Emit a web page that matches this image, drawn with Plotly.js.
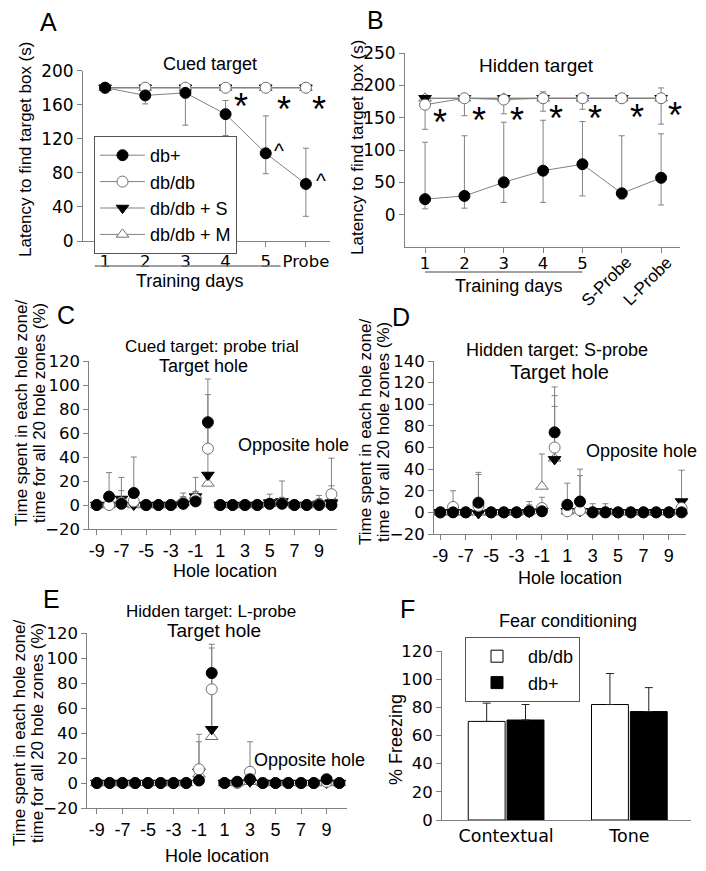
<!DOCTYPE html>
<html><head><meta charset="utf-8">
<script src="https://cdn.plot.ly/plotly-3.0.1.min.js"></script>
<style>html,body{margin:0;padding:0;background:#fff}#chart{width:706px;height:871px}</style>
</head><body><div id="chart"></div>
<script>
// ---------- DATA ----------
// Panel A: cued target
const cuedDays = [1, 2, 3, 4, 5, 6];
const cuedDayLabels = ['1', '2', '3', '4', '5', 'Probe'];
const cuedDbPlus = [180, 171, 174, 149, 103, 67];
const cuedDbPlusUp = [0, 0, 0, 16, 44, 42];
const cuedDbPlusDn = [6, 10, 38, 25, 24, 38];
const cuedDbDb = [180, 180, 180, 180, 180, 180];
const cuedDbDbErr = [3, 3, 3, 3, 3, 3];
const cuedDbDbS = [180, 180, 180, 180, 180, 180];
const cuedDbDbSErr = [3, 3, 3, 3, 3, 3];
const cuedDbDbM = [180, 180, 180, 180, 180, 180];
const cuedDbDbMErr = [3, 3, 3, 3, 3, 3];

// Panel B: hidden target
const hidDays = [1, 2, 3, 4, 5, 6, 7];
const hidDayLabels = ['1', '2', '3', '4', '5', '', ''];
const hidProbeLabels = ['S-Probe', 'L-Probe'];
const hidDbPlus = [24, 29, 50, 68, 78, 33, 57];
const hidDbPlusUp = [88, 93, 93, 78, 66, 89, 68];
const hidDbPlusDn = [15, 19, 31, 49, 49, 9, 42];
const hidDbDb = [170, 180, 178, 180, 180, 180, 180];
const hidDbDbUp = [0, 0, 0, 10, 3, 3, 16];
const hidDbDbDn = [38, 27, 22, 20, 17, 3, 40];
const hidDbDbS = [180, 180, 180, 180, 180, 180, 180];
const hidDbDbSErr = [3, 3, 3, 3, 3, 3, 3];
const hidDbDbM = [180, 180, 180, 180, 180, 180, 180];
const hidDbDbMErr = [5, 5, 5, 5, 5, 5, 5];

// Hole locations (panels C, D, E)
const holes = [-9, -8, -7, -6, -5, -4, -3, -2, -1, 0, 1, 2, 3, 4, 5, 6, 7, 8, 9, 10];
const holeTicks = [-9, -7, -5, -3, -1, 1, 3, 5, 7, 9];
const holeTickLabels = ['-9', '-7', '-5', '-3', '-1', '1', '3', '5', '7', '9'];

// Panel C: cued probe
const cDbPlus   = [0, 7, 1, 10, 0, 0, 0, 1, 3, 69, 0, 0, 0, 0, 1, 1, 0, 0, 0, 0];
const cDbPlusE  = [1, 20, 2, 30, 0, 0, 0, 2, 3, 36, 1, 0, 0, 0, 2, 1, 0, 0, 0, 0];
const cDbDb     = [0, 0, 2, 3, 0, 0, 0, 2, 5, 47, 0, 0, 0, 0, 1, 2, 0, 0, 1, 9];
const cDbDbE    = [0, 2, 10, 8, 0, 0, 0, 8, 6, 45, 0, 0, 0, 0, 3, 4, 0, 0, 2, 30];
const cDbDbS    = [0, 0, 5, 0, 0, 0, 0, 1, 7, 25, 0, 0, 0, 0, 2, 3, 0, 0, 1, 2];
const cDbDbSE   = [0, 0, 18, 0, 0, 0, 0, 3, 16, 39, 0, 0, 0, 0, 7, 17, 0, 0, 7, 3];
const cDbDbM    = [0, 0, 1, 0, 0, 0, 0, 2, 8, 18, 0, 0, 0, 0, 1, 2, 0, 0, 1, 5];
const cDbDbME   = [0, 0, 3, 0, 0, 0, 0, 5, 3, 4, 0, 0, 0, 0, 2, 3, 0, 0, 2, 11];

// Panel D: hidden S-probe
const dDbPlus   = [0, 0, 0, 9, 0, 0, 0, 1, 1, 74, 7, 10, 0, 0, 0, 0, 0, 0, 0, 0];
const dDbPlusE  = [0, 0, 0, 28, 0, 0, 0, 9, 2, 42, 20, 30, 0, 0, 0, 0, 0, 0, 0, 0];
const dDbDb     = [0, 5, 0, 6, 0, 0, 0, 1, 4, 60, 1, 2, 0, 0, 0, 0, 0, 0, 0, 4];
const dDbDbE    = [0, 15, 0, 29, 0, 0, 0, 6, 10, 48, 2, 4, 0, 0, 0, 0, 0, 0, 0, 3];
const dDbDbS    = [0, 0, 0, -1, 0, 0, 0, 0, 1, 49, 1, 1, 1, 1, 0, 0, 0, 0, 0, 10];
const dDbDbSE   = [0, 0, 0, 2, 0, 0, 0, 2, 7, 49, 2, 33, 7, 7, 0, 0, 0, 0, 0, 29];
const dDbDbM    = [0, 0, 0, 0, 0, 0, 0, 1, 24, 50, 1, 2, 1, 1, 0, 0, 0, 0, 0, 1];
const dDbDbME   = [0, 0, 0, 0, 0, 0, 0, 3, 30, 2, 2, 3, 2, 2, 0, 0, 0, 0, 0, 1];

// Panel E: hidden L-probe
const eDbPlus   = [0, 0, 0, 0, 0, 0, 0, 0, 2, 88, 0, 1, 3, 0, 0, 0, 0, 0, 3, 0];
const eDbPlusE  = [0, 0, 0, 0, 0, 0, 0, 0, 2, 23, 0, 2, 3, 0, 0, 0, 0, 0, 2, 0];
const eDbDb     = [0, 0, 0, 0, 0, 0, 0, 0, 11, 75, 0, 0, 9, 0, 0, 0, 0, 0, 1, 0];
const eDbDbE    = [0, 0, 0, 0, 0, 0, 0, 0, 28, 33, 0, 0, 24, 0, 0, 0, 0, 0, 2, 0];
const eDbDbS    = [0, 0, 0, 0, 0, 0, 0, 0, 9, 43, 0, 0, 1, 0, 0, 0, 0, 0, 0, 0];
const eDbDbSE   = [0, 0, 0, 0, 0, 0, 0, 0, 24, 42, 0, 0, 2, 0, 0, 0, 0, 0, 1, 0];
const eDbDbM    = [0, 0, 0, 0, 0, 0, 0, 0, 7, 37, 0, 0, 1, 0, 0, 0, 0, 0, 0, 0];
const eDbDbME   = [0, 0, 0, 0, 0, 0, 0, 0, 5, 47, 0, 0, 2, 0, 0, 0, 0, 0, 1, 0];

// Panel F: fear conditioning
const fearCats = ['Contextual', 'Tone'];
const fearDbDb = [70, 82];
const fearDbDbErr = [13, 22];
const fearDbPlus = [71, 77];
const fearDbPlusErr = [11, 17];

// ---------- STYLE / LAYOUT ----------
const W = 706, H = 871;
const FONT = 'Liberation Sans, Arial, Helvetica, sans-serif';
const TICKFONT = 'DejaVu Sans, Liberation Sans, sans-serif';
const GREY = '#808080';
const px = v => v / W;
const py = v => 1 - v / H;
const zeros = a => a.map(() => 0);

const markerStyles = {
  'db+': {symbol: 'circle', size: 11, color: '#000', line: {color: '#000', width: 1}},
  'db/db': {symbol: 'circle', size: 11, color: '#fff', line: {color: '#707070', width: 1}},
  'db/db + S': {symbol: 'triangle-down', size: 11, color: '#000', line: {color: '#000', width: 1}},
  'db/db + M': {symbol: 'triangle-up', size: 11, color: '#fff', line: {color: '#707070', width: 1}}
};

function errBar(up, dn) {
  return {type: 'data', symmetric: false, array: up, arrayminus: dn, color: GREY, thickness: 1, width: 3, visible: true};
}

const traces = [];
function addSeries(xa, ya, x, y, up, dn, name, withLine, legend) {
  traces.push({
    type: 'scatter', x: x, y: y, name: name,
    xaxis: xa, yaxis: ya,
    mode: withLine ? 'lines+markers' : 'markers',
    line: {color: GREY, width: 1},
    marker: markerStyles[name],
    error_y: errBar(up, dn),
    cliponaxis: false,
    showlegend: !!legend,
    legend: 'legend'
  });
}

// Panel A (drawn M, S, db/db, db+ so db+ on top)
addSeries('x', 'y', cuedDays, cuedDbDbM, cuedDbDbMErr, cuedDbDbMErr, 'db/db + M', true, true);
addSeries('x', 'y', cuedDays, cuedDbDbS, cuedDbDbSErr, cuedDbDbSErr, 'db/db + S', true, true);
addSeries('x', 'y', cuedDays, cuedDbDb, cuedDbDbErr, cuedDbDbErr, 'db/db', true, true);
addSeries('x', 'y', cuedDays, cuedDbPlus, cuedDbPlusUp, cuedDbPlusDn, 'db+', true, true);

// Panel B
addSeries('x2', 'y2', hidDays, hidDbDbM, hidDbDbMErr, hidDbDbMErr, 'db/db + M', true, false);
addSeries('x2', 'y2', hidDays, hidDbDbS, hidDbDbSErr, hidDbDbSErr, 'db/db + S', true, false);
addSeries('x2', 'y2', hidDays, hidDbDb, hidDbDbUp, hidDbDbDn, 'db/db', true, false);
addSeries('x2', 'y2', hidDays, hidDbPlus, hidDbPlusUp, hidDbPlusDn, 'db+', true, false);

// Panels C, D, E
[['x3', 'y3', [cDbDbM, cDbDbME], [cDbDbS, cDbDbSE], [cDbDb, cDbDbE], [cDbPlus, cDbPlusE]],
 ['x4', 'y4', [dDbDbM, dDbDbME], [dDbDbS, dDbDbSE], [dDbDb, dDbDbE], [dDbPlus, dDbPlusE]],
 ['x5', 'y5', [eDbDbM, eDbDbME], [eDbDbS, eDbDbSE], [eDbDb, eDbDbE], [eDbPlus, eDbPlusE]]
].forEach(p => {
  addSeries(p[0], p[1], holes, p[2][0], p[2][1], zeros(holes), 'db/db + M', false, false);
  addSeries(p[0], p[1], holes, p[3][0], p[3][1], zeros(holes), 'db/db + S', false, false);
  addSeries(p[0], p[1], holes, p[4][0], p[4][1], zeros(holes), 'db/db', false, false);
  addSeries(p[0], p[1], holes, p[5][0], p[5][1], zeros(holes), 'db+', false, false);
});

// Panel F bars
traces.push({
  type: 'bar', x: fearCats, y: fearDbDb, name: 'db/db', xaxis: 'x6', yaxis: 'y6',
  marker: {color: '#fff', line: {color: '#000', width: 1}},
  error_y: {type: 'data', symmetric: false, array: fearDbDbErr, arrayminus: zeros(fearDbDbErr), color: '#222', thickness: 1, width: 4},
  legend: 'legend2', showlegend: true
});
traces.push({
  type: 'bar', x: fearCats, y: fearDbPlus, name: 'db+', xaxis: 'x6', yaxis: 'y6',
  marker: {color: '#000', line: {color: '#000', width: 1}},
  error_y: {type: 'data', symmetric: false, array: fearDbPlusErr, arrayminus: zeros(fearDbPlusErr), color: '#222', thickness: 1, width: 4},
  legend: 'legend2', showlegend: true
});

function tf(size, fam) { return {family: fam || TICKFONT, size: size, color: '#000'}; }
function axis(d0, d1, range, extra) {
  return Object.assign({
    domain: [d0, d1], range: range, showline: true, linecolor: GREY, linewidth: 1,
    ticks: 'outside', ticklen: 5, tickcolor: GREY, tickwidth: 1,
    showgrid: false, zeroline: false, tickangle: 0,
    tickfont: tf(16.5)
  }, extra || {});
}
const holeAxisExtra = {tickvals: holeTicks, ticktext: holeTickLabels, tickfont: tf(18, FONT)};

const layout = {
  width: W, height: H, autosize: false,
  margin: {l: 0, r: 0, t: 0, b: 0, pad: 0},
  paper_bgcolor: '#fff', plot_bgcolor: 'rgba(0,0,0,0)',
  font: {family: FONT, size: 17, color: '#000'},
  showlegend: true,
  barmode: 'group', bargap: 0.37, bargroupgap: 0.05,
  // A
  xaxis: axis(px(83), px(330), [0.45, 6.6], {anchor: 'y', tickvals: cuedDays, ticktext: cuedDayLabels}),
  yaxis: axis(py(241), py(70.7), [0, 200], {anchor: 'x', tickvals: [0, 40, 80, 120, 160, 200], tickfont: tf(17)}),
  // B
  xaxis2: axis(px(405), px(680), [0.49, 7.48], {anchor: 'y2', tickvals: hidDays, ticktext: hidDayLabels, ticklabelstandoff: -4}),
  yaxis2: axis(py(247), py(53), [-50, 250], {anchor: 'x2', tickvals: [0, 50, 100, 150, 200, 250], tickfont: tf(17)}),
  // C
  xaxis3: axis(px(89.3), px(337), [-9.6, 10.45], Object.assign({anchor: 'y3'}, holeAxisExtra)),
  yaxis3: axis(py(529), py(361), [-20, 120], {anchor: 'x3', dtick: 20}),
  // D
  xaxis4: axis(px(434), px(686), [-9.5, 10.35], Object.assign({anchor: 'y4'}, holeAxisExtra)),
  yaxis4: axis(py(534), py(361), [-20, 140], {anchor: 'x4', dtick: 20}),
  // E
  xaxis5: axis(px(87.3), px(347), [-9.75, 10.6], Object.assign({anchor: 'y5'}, holeAxisExtra)),
  yaxis5: axis(py(808), py(633), [-20, 120], {anchor: 'x5', dtick: 20}),
  // F
  xaxis6: axis(px(442), px(691), [-0.52, 1.5], {anchor: 'y6', type: 'category', ticks: '', tickfont: tf(17.5)}),
  yaxis6: axis(py(820), py(651), [0, 120], {anchor: 'x6', dtick: 20}),
  legend: {
    x: px(94), y: py(136), xanchor: 'left', yanchor: 'top',
    bordercolor: '#555', borderwidth: 1, bgcolor: '#fff',
    font: {family: FONT, size: 18, color: '#000'},
    traceorder: 'reversed', itemwidth: 45, tracegroupgap: 0
  },
  legend2: {
    x: px(465), y: py(637), xanchor: 'left', yanchor: 'top',
    bordercolor: '#555', borderwidth: 1, bgcolor: '#fff',
    font: {family: FONT, size: 18, color: '#000'},
    traceorder: 'normal', itemwidth: 52
  },
  shapes: [
    {type: 'line', xref: 'x', yref: 'paper', x0: 0.74, x1: 5.37, y0: py(266), y1: py(266), line: {color: GREY, width: 1.5}},
    {type: 'line', xref: 'x2', yref: 'paper', x0: 1.0, x1: 5.0, y0: py(272), y1: py(272), line: {color: GREY, width: 1.5}}
  ],
  annotations: []
};

function note(text, x, y, size, extra) {
  layout.annotations.push(Object.assign({
    text: text, x: px(x), y: py(y), xref: 'paper', yref: 'paper',
    showarrow: false, xanchor: 'center', yanchor: 'middle',
    font: {family: FONT, size: size, color: '#000'}
  }, extra || {}));
}
function dataNote(text, xa, ya, x, y, size, extra) {
  layout.annotations.push(Object.assign({
    text: text, x: x, y: y, xref: xa, yref: ya,
    showarrow: false, xanchor: 'center', yanchor: 'middle',
    font: {family: FONT, size: size, color: '#000'}
  }, extra || {}));
}

// Panel A texts
note('A', 48, 22, 25);
note('Cued target', 210, 64, 18);
note('Training days', 189, 281, 18);
note('Latency to find target box (s)', 25, 150, 17, {textangle: -90});
[[4.375, 158], [5.46, 155], [6.33, 154]].forEach(a => dataNote('*', 'x', 'y', a[0], a[1], 36));
[[5.33, 106], [6.375, 71]].forEach(a => dataNote('^', 'x', 'y', a[0], a[1], 21));

// Panel B texts
note('B', 375, 20, 25);
note('Hidden target', 536, 65, 19);
note('Training days', 508, 286, 18);
note('Latency to find target box (s)', 357, 148, 17, {textangle: -90});
[[1.39, 143], [2.37, 145], [3.34, 146], [4.33, 148], [5.32, 148], [6.39, 150], [7.36, 153]]
  .forEach(a => dataNote('*', 'x2', 'y2', a[0], a[1], 36));
dataNote(hidProbeLabels[0], 'x2', 'paper', 5.62, py(282), 17, {textangle: -45});
dataNote(hidProbeLabels[1], 'x2', 'paper', 6.66, py(282), 17, {textangle: -45});

// Panel C texts
note('C', 66, 315, 25);
note('Cued target: probe trial', 212, 347, 17);
note('Target hole', 203, 366, 18);
note('Opposite hole', 293, 445, 18);
note('Time spent in each hole zone/', 21, 413, 17, {textangle: -90});
note('time for all 20 hole zones (%)', 39, 413, 17, {textangle: -90});
note('Hole location', 225, 571, 18);

// Panel D texts
note('D', 401, 317, 25);
note('Hidden target: S-probe', 557, 350, 18);
note('Target hole', 559, 372, 20);
note('Opposite hole', 641, 451, 18);
note('Time spent in each hole zone/', 365, 432, 17, {textangle: -90});
note('time for all 20 hole zones (%)', 383, 432, 17, {textangle: -90});
note('Hole location', 570, 578, 18);

// Panel E texts
note('E', 51, 599, 25);
note('Hidden target: L-probe', 211, 611, 17);
note('Target hole', 214, 630, 19);
note('Opposite hole', 309, 760, 18);
note('Time spent in each hole zone/', 19, 733, 17, {textangle: -90});
note('time for all 20 hole zones (%)', 37, 733, 17, {textangle: -90});
note('Hole location', 217, 856, 18);

// Panel F texts
note('F', 407, 609, 25);
note('Fear conditioning', 568, 621, 18);
note('% Freezing', 396, 740, 18, {textangle: -90});

Plotly.newPlot('chart', traces, layout, {staticPlot: true, displayModeBar: false});
</script>
</body></html>
